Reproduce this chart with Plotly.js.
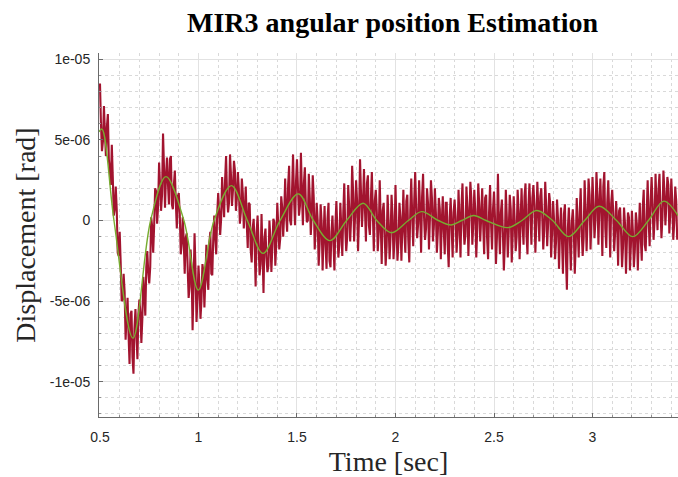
<!DOCTYPE html>
<html>
<head>
<meta charset="utf-8">
<script src="https://cdn.plot.ly/plotly-3.0.1.min.js"></script>
<style>html,body{margin:0;padding:0;background:#fff}#chart{width:678px;height:477px}</style>
</head>
<body>
<div id="chart"></div>
<script>
// Measured signal (units of 1e-6 rad). Samples on the 0.01 s grid starting at 0.50 s ...
const measStart = 0.50;
const measStep = 0.01;
const measValuesA = [
  8.5, 4.3, 7.1, 4.0, 6.6, 3.1, 4.7, 0.3, 2.1, -2.0,
  -0.7, -5.0, -3.3, -7.4, -4.8, -8.9, -5.6, -9.5, -5.5, -8.6,
  -4.9, -7.6, -3.5, -5.9, -1.9, -3.9, 0.2, -2.0, 2.0, -0.2,
  3.6, 0.6, 5.4, 0.8, 3.9, 1.0, 4.0, 0.7, 3.1, -0.5,
  1.7, -2.1, 0.2, -3.3, -0.8, -4.8, -1.8, -6.8, -0.8, -6.3,
  -2.8, -6.1, -2.7, -5.4, -1.5, -4.3, -0.7, -3.4, 0.3, -2.1,
  1.7, -0.9, 2.7, 0.2, 4.0, 0.5, 4.1, 0.9, 3.7, 0.6,
  3.0, -0.2, 2.6, -0.5, 2.1, -1.7, 1.0, -2.6, 0.1, -4.1,
  0.3, -3.4, 0.4, -4.5, -0.5, -3.2, 0.0, -3.2, 0.1, -2.8,
  1.1, -1.8, 1.5, -1.0, 2.6, -0.7, 3.4, -0.3, 4.1, -0.3,
  3.8, 0.3, 4.2, -0.3, 3.3, -0.1, 2.9, -0.9, 2.8, -1.8,
  1.1, -2.8, 1.0, -3.1, 0.9, -3.0, 1.1, -2.9, 0.3, -3.1,
  1.2, -2.3, 1.1, -2.2, 2.3, -1.9, 2.2, -1.3, 3.4, -1.3,
  2.5, -1.9, 3.8, -0.4, 3.2, -1.3, 2.8, -0.9, 3.0, -1.9,
  1.9, -1.9, 2.5, -2.7, 1.1, -2.8, 1.6, -2.4, 1.6, -2.4,
  2.2, -2.5, 1.1, -2.5, 1.9, -2.0, 1.6, -2.6, 2.6, -1.6,
  3.0, -1.1, 2.5, -2.0, 2.9, -1.2, 2.0, -1.8, 2.5, -1.3,
  2.0, -2.0, 1.4, -2.4, 1.5, -2.1, 1.1, -2.9, 1.4, -2.3,
  1.3, -2.0, 1.9, -2.3, 2.3, -1.5, 2.1, -2.2, 2.4, -1.5,
  1.9, -2.3, 2.3, -1.3, 2.0, -2.1, 1.6, -2.4, 2.2, -1.8,
  1.8, -2.7, 2.9, -2.1, 1.3, -3.1, 1.9, -2.3, 1.6, -2.6,
  1.5, -1.9, 1.9, -2.4, 2.0, -1.5, 2.3, -2.1, 2.3, -1.5,
  2.2, -2.0, 2.4, -1.3, 2.0, -1.8, 2.4, -1.6, 1.7, -2.3,
  1.2, -2.4, 1.3, -3.0, 0.8, -3.3, 1.0, -4.3, 0.8, -3.1,
  0.7, -3.3, 1.4, -2.3, 2.0, -2.2, 2.5, -1.9, 2.6, -1.8,
  2.7, -1.1, 3.0, -1.5, 2.6, -2.2, 3.0, -1.7, 2.5, -2.3,
  1.9, -1.9, 1.2, -2.8, 0.8, -2.9, 0.8, -3.3, 0.5, -3.1,
  0.6, -2.9, 0.5, -3.1, 1.1, -2.5, 1.9, -1.9, 2.5, -1.6,
  2.7, -1.2, 2.9, -0.6, 2.9, -1.1, 3.1, -0.3, 2.7, -0.8,
  2.6, -1.2, 2.1, -1.2
];
// ... and the samples half-way between them (0.505 s, 0.515 s, ...)
const measValuesB = [
  6.0, 4.9, 5.5, 5.8, 3.8, 2.2, 2.7, 0.7, 0.7, -2.2,
  -2.6, -4.9, -4.4, -6.0, -7.1, -5.8, -8.5, -6.7, -7.1, -5.8,
  -5.7, -6.1, -4.5, -2.9, -3.2, -2.9, -0.4, -0.3, 1.8, 0.9,
  2.2, 1.6, 3.3, 2.7, 2.3, 3.8, 1.0, 2.2, 1.1, 1.5,
  0.4, -1.4, -1.2, -1.1, -2.9, -4.1, -3.0, -4.1, -3.1, -4.8,
  -4.0, -5.0, -3.2, -3.6, -3.6, -1.4, -3.3, -1.1, -1.1, 0.4,
  0.6, 0.1, 1.3, 2.5, 1.6, 1.1, 2.8, 1.9, 3.1, 1.4,
  1.9, 0.5, 1.7, 0.6, -0.2, 1.1, -1.8, -0.5, -1.4, -0.8,
  -1.4, -2.7, -1.9, -1.1, -2.3, -2.8, -1.1, -1.6, -0.1, -1.4,
  -0.3, -1.1, 0.8, 0.4, 0.3, 2.2, 0.0, 1.9, 1.4, 2.4,
  2.0, 0.9, 1.7, 2.3, 1.0, 0.0, 1.4, 0.3, 1.4, -0.5,
  0.0, -1.4, -0.1, -1.0, -1.5, 0.1, -2.5, -0.7, -1.3, -0.3,
  -0.6, -1.5, -0.5, 0.5, -0.5, -1.0, 0.8, 0.2, 1.7, 0.3,
  1.2, 0.2, 1.7, 1.1, 0.7, 2.3, -0.3, 1.3, 0.5, 1.2,
  0.6, -0.7, -0.1, 0.6, -0.8, -1.6, -0.1, -1.0, 0.3, -1.2,
  -0.4, -1.4, 0.2, -0.4, -0.7, 1.2, -1.2, 0.6, 0.2, 1.2,
  0.8, -0.2, 0.6, 1.5, 0.2, -0.5, 1.1, 0.2, 1.4, -0.3,
  0.5, -0.7, 0.7, -0.1, -0.6, 1.1, -1.5, 0.2, -0.4, 0.5,
  0.2, -0.9, 0.0, 0.9, -0.2, -0.9, 0.8, 0.1, 1.4, -0.2,
  0.6, -0.5, 1.0, 0.2, -0.2, 1.4, -1.1, 0.5, -0.2, 0.7,
  0.2, -1.0, -0.2, 0.5, -0.7, -1.4, 0.2, -0.6, 0.7, -0.9,
  0.0, -1.0, 0.6, 0.0, -0.3, 1.5, -0.9, 0.9, 0.4, 1.4,
  1.0, -0.1, 0.7, 1.5, 0.2, -0.6, 0.9, -0.1, 1.1, -0.7,
  0.0, -1.3, 0.1, -0.7, -1.2, 0.4, -2.2, -0.5, -1.1, -0.1,
  -0.5, -1.5, -0.5, 0.5, -0.6, -1.1, 0.7, 0.1, 1.6, 0.1,
  1.0, 0.0, 1.6, 0.9, 0.5, 2.1, -0.5, 1.1, 0.4, 1.1,
  0.6, -0.7, -0.1, 0.6, -0.8, -1.6, -0.2, -1.1, 0.2, -1.5,
  -0.7, -1.8, -0.2, -0.8, -1.1, 0.8, -1.5, 0.4, 0.0, 1.2,
  1.0, 0.0, 1.0, 1.9, 0.8, 0.2, 1.8, 1.0, 2.2, 0.5,
  1.2, -0.1, 1.2
];

// Estimated (fitted) curve, read at its extrema and zero crossings (units of 1e-6 rad)
const fitTimes = [0.495, 0.51, 0.571, 0.667, 0.757, 0.835, 0.926, 0.999, 1.079, 1.167,
  1.248, 1.328, 1.414, 1.507, 1.583, 1.667, 1.752, 1.836, 1.905, 1.98,
  2.065, 2.133, 2.217, 2.282, 2.336, 2.398, 2.46, 2.57, 2.642, 2.717,
  2.797, 2.878, 2.96, 3.034, 3.122, 3.204, 3.284, 3.362, 3.434];
const fitValues = [5.5, 5.67, 0, -7.3, 0, 2.72, 0, -4.32, 0, 2.16,
  0, -2.04, 0, 1.65, 0, -1.25, 0, 1.07, 0, -0.76,
  0, 0.55, 0, -0.28, 0, 0.31, 0, -0.44, 0, 0.62,
  0, -1.0, 0, 0.88, 0, -1.0, 0, 1.2, 0.3];

const unit = 1e-6;
const xTickVals = [0.5, 1, 1.5, 2, 2.5, 3];
const xTickText = ['0.5', '1', '1.5', '2', '2.5', '3'];
const yTickVals = [1e-5, 5e-6, 0, -5e-6, -1e-5];
const yTickText = ['1e-05', '5e-06', '0', '-5e-06', '-1e-05'];

// merge the two interleaved sample sets in time order
const measX = [], measY = [];
for (let i = 0; i < measValuesA.length; i++) {
  measX.push(+(measStart + i * measStep).toFixed(4));
  measY.push(measValuesA[i] * unit);
  if (i < measValuesB.length) {
    measX.push(+(measStart + (i + 0.5) * measStep).toFixed(4));
    measY.push(measValuesB[i] * unit);
  }
}
const fitY = fitValues.map(v => v * unit);

const traces = [
  {x: measX, y: measY, type: 'scatter', mode: 'lines',
   line: {color: '#A2142F', width: 2.1, simplify: false}, hoverinfo: 'skip', showlegend: false},
  {x: fitTimes, y: fitY, type: 'scatter', mode: 'lines',
   line: {color: '#77AC30', width: 1.4, shape: 'spline', smoothing: 1}, hoverinfo: 'skip', showlegend: false}
];

const gridMajor = '#e2e2e2';
const gridMinor = '#d9d9d9';
const serif = 'Liberation Serif, Times New Roman, serif';
const sans = 'Liberation Sans, Arial, sans-serif';
const layout = {
  width: 678, height: 477,
  margin: {l: 99, r: 0, t: 53, b: 60, pad: 0},
  paper_bgcolor: '#ffffff', plot_bgcolor: '#ffffff',
  title: {text: '<b>MIR3 angular position Estimation</b>', x: 0.507, xref: 'paper',
          y: 1 - 22 / 477, yref: 'container', yanchor: 'middle',
          font: {family: serif, size: 28, color: '#000'}},
  xaxis: {
    range: [0.495, 3.434], tickmode: 'array', tickvals: xTickVals, ticktext: xTickText,
    showgrid: true, gridcolor: gridMajor, gridwidth: 1, zeroline: false,
    showline: true, linecolor: '#6a6a6a', linewidth: 1, mirror: false,
    ticks: 'inside', ticklen: 4, tickcolor: '#6a6a6a', ticklabelstandoff: 7,
    tickfont: {family: sans, size: 14, color: '#262626'},
    minor: {tickmode: 'linear', tick0: 0.5, dtick: 0.1, showgrid: true, gridcolor: gridMinor, griddash: 'dot', gridwidth: 1,
            ticks: 'inside', ticklen: 2, tickcolor: '#909090'},
    title: {text: 'Time [sec]', standoff: 10, font: {family: serif, size: 28, color: '#262626'}}
  },
  yaxis: {
    range: [-12.19e-6, 10.39e-6], tickmode: 'array', tickvals: yTickVals, ticktext: yTickText,
    showgrid: true, gridcolor: gridMajor, gridwidth: 1, zeroline: false,
    showline: true, linecolor: '#6a6a6a', linewidth: 1, mirror: false,
    ticks: 'inside', ticklen: 4, tickcolor: '#6a6a6a', ticklabelstandoff: 5,
    tickfont: {family: sans, size: 14, color: '#262626'},
    minor: {tickmode: 'linear', tick0: 0, dtick: 1e-6, showgrid: true, gridcolor: gridMinor, griddash: 'dot', gridwidth: 1,
            ticks: 'inside', ticklen: 2, tickcolor: '#909090'},
    title: {text: 'Displacement [rad]', standoff: 5, font: {family: serif, size: 28, color: '#262626'}}
  },
  showlegend: false
};

Plotly.newPlot('chart', traces, layout, {displayModeBar: false, staticPlot: true});
</script>
</body>
</html>
